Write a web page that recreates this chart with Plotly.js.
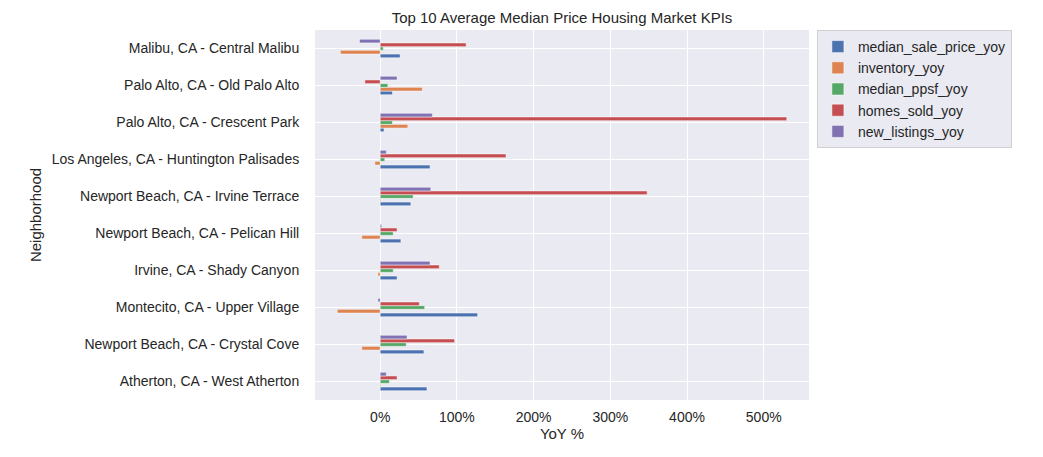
<!DOCTYPE html>
<html><head><script src="https://cdn.plot.ly/plotly-3.0.1.min.js"></script></head>
<body style="margin:0"><div id="c" style="width:1043px;height:457px"></div>
<script>
const categories = ["Atherton, CA - West Atherton","Newport Beach, CA - Crystal Cove","Montecito, CA - Upper Village","Irvine, CA - Shady Canyon","Newport Beach, CA - Pelican Hill","Newport Beach, CA - Irvine Terrace","Los Angeles, CA - Huntington Palisades","Palo Alto, CA - Crescent Park","Palo Alto, CA - Old Palo Alto","Malibu, CA - Central Malibu"];
const median_sale_price_yoy = [0.61,0.57,1.27,0.22,0.27,0.40,0.65,0.05,0.16,0.26];
const inventory_yoy = [0.01,-0.24,-0.56,-0.03,-0.24,0.01,-0.07,0.36,0.55,-0.52];
const median_ppsf_yoy = [0.12,0.34,0.58,0.17,0.17,0.43,0.06,0.16,0.10,0.04];
const homes_sold_yoy = [0.22,0.97,0.51,0.77,0.22,3.48,1.64,5.30,-0.20,1.12];
const new_listings_yoy = [0.08,0.35,-0.03,0.65,0.02,0.66,0.08,0.68,0.22,-0.27];
const names = ["median_sale_price_yoy","inventory_yoy","median_ppsf_yoy","homes_sold_yoy","new_listings_yoy"];
const series = [median_sale_price_yoy,inventory_yoy,median_ppsf_yoy,homes_sold_yoy,new_listings_yoy];
const colors = ["#4C72B0","#DD8452","#55A868","#C44E52","#8172B3"];
const data = series.map((s,i)=>({type:'bar',orientation:'h',x:s,y:categories,name:names[i],
  marker:{color:colors[i],line:{color:'white',width:0.5}}}));
Plotly.newPlot('c',data,{
  width:1043,height:457,barmode:'group',bargap:0.5,bargroupgap:0,
  margin:{l:315,r:234,t:30,b:57},
  paper_bgcolor:'white',plot_bgcolor:'#EAEAF2',
  font:{family:'Liberation Sans, Arial, sans-serif',size:14,color:'#262626'},
  title:{text:'Top 10 Average Median Price Housing Market KPIs',font:{size:15},x:0.5,xref:'paper',y:0.95,yanchor:'bottom'},
  xaxis:{range:[-0.85,5.59],tickformat:'.0%',dtick:1,gridcolor:'white',gridwidth:1.2,zeroline:false,
    title:{text:'YoY %',font:{size:15},standoff:4},ticks:'outside',ticklen:4,tickcolor:'rgba(0,0,0,0)',tickfont:{size:14}},
  yaxis:{gridcolor:'white',gridwidth:1.2,title:{text:'Neighborhood',font:{size:15},standoff:6},ticks:'outside',ticklen:12,tickcolor:'rgba(0,0,0,0)',tickfont:{size:14}},
  legend:{x:1.016,y:1,xanchor:'left',yanchor:'top',bgcolor:'#EAEAF2',bordercolor:'#d0d0d0',borderwidth:1,traceorder:'normal',font:{size:14}},
  showlegend:true
},{displayModeBar:false});
</script></body></html>
